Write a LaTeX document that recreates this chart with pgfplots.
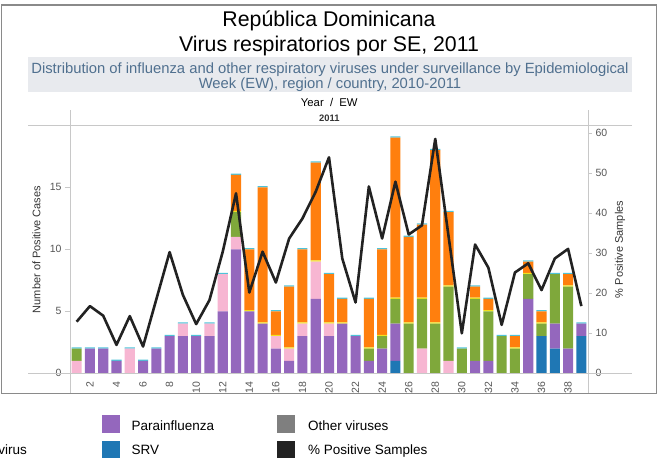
\documentclass[border=0pt]{standalone}
\usepackage{pgfplots}
\usepackage{pgfplotstable}
\pgfplotsset{compat=1.18}
\usepackage{fontspec}
\setmainfont{Liberation Sans}

\definecolor{pur}{HTML}{9467BD}
\definecolor{blu}{HTML}{1F77B4}
\definecolor{pnk}{HTML}{F7B6D2}
\definecolor{grn}{HTML}{7FA83B}
\definecolor{orn}{HTML}{FF7F0E}
\definecolor{yel}{HTML}{F2E21E}
\definecolor{cap}{HTML}{4EC3D8}
\definecolor{linec}{HTML}{222222}
\definecolor{oth}{HTML}{7F7F7F}
\definecolor{rule}{HTML}{C8C8C8}
\definecolor{frame}{HTML}{8A8A8A}
\definecolor{band}{HTML}{E8EAEE}
\definecolor{subt}{HTML}{50708F}
\definecolor{tick}{HTML}{555555}
\definecolor{lab}{HTML}{333333}

\newcommand\fs[1]{\fontsize{#1bp}{#1bp}\selectfont}

% weekly counts by virus (stack order bottom to top) and % positive samples
\pgfplotstableread{
wk blue pur pink grn yel orn cap pct
1  0 0  1 1 0   0    0.1 12.9
2  0 2  0 0 0   0    0.1 16.8
3  0 2  0 0 0   0    0.1 14.4
4  0 1  0 0 0   0    0.1 7.1
5  0 0  2 0 0   0    0.1 14.3
6  0 1  0 0 0   0    0.1 6.7
7  0 2  0 0 0   0    0.1 18.5
8  0 3  0 0 0   0    0.1 30.3
9  0 3  1 0 0   0    0.1 19.6
10 0 3  0 0 0   0    0.1 12.3
11 0 3  1 0 0   0    0.1 18.3
12 0 5  3 0 0   0    0.1 30.4
13 0 10 1 2 0.1 2.9  0.1 45.0
14 0 5  0 0 0.1 4.9  0.1 20.2
15 0 4  0 0 0.1 10.9 0.1 30.4
16 0 2  1 0 0.1 1.9  0.1 22.7
17 0 1  1 0 0.1 4.9  0.1 33.7
18 0 3  1 0 0.1 5.9  0.1 38.7
19 0 6  3 0 0.1 7.9  0.1 45.4
20 0 3  1 0 0.1 3.9  0.1 54.0
21 0 4  0 0 0.1 1.9  0.1 28.7
22 0 3  0 0 0   0    0.1 17.7
23 0 1  0 1 0.1 3.9  0.1 46.7
24 0 2  0 1 0.1 6.9  0.1 33.7
25 1 3  0 2 0.1 12.9 0.1 47.9
26 0 0  0 4 0.1 6.9  0.1 34.7
27 0 0  2 4 0.1 5.9  0.1 37.0
28 0 0  0 4 0.1 13.9 0.1 58.6
29 0 0  1 6 0.1 5.9  0.1 34.3
30 0 0  0 2 0   0    0.1 10.0
31 0 1  0 5 0.1 0.9  0.1 32.2
32 0 1  0 4 0.1 0.9  0.1 26.4
33 0 0  0 3 0   0    0.1 12.1
34 0 0  0 2 0.1 0.9  0.1 25.2
35 0 6  0 2 0.1 0.9  0.1 27.5
36 3 0  0 1 0.1 0.9  0.1 20.8
37 2 2  0 4 0   0    0.1 28.7
38 0 2  0 5 0.1 0.9  0.1 31.1
39 3 1  0 0 0   0    0.1 16.8
}\data

\begin{document}
\begin{tikzpicture}
\useasboundingbox (0,0) rectangle (658bp,-464bp);

% title block (pixel coordinates, y down)
\begin{scope}[x=1bp,y=-1bp]
\fill[band] (28,56.7) rectangle (632,92.3);
\node[anchor=base, font=\fs{21.3}] at (329,26.7) {República Dominicana};
\node[anchor=base, font=\fs{21.3}] at (329,51.7) {Virus respiratorios por SE, 2011};
\node[anchor=base, font=\fs{14.8}, text=subt] at (330,73.3) {Distribution of influenza and other respiratory viruses under surveillance by Epidemiological};
\node[anchor=base, font=\fs{14.8}, text=subt] at (330,88.3) {Week (EW), region / country, 2010-2011};
\node[anchor=base, font=\fs{11.3}] at (329.3,106.7) {Year~~/~~EW};
\node[anchor=base, font=\fs{9.4}\bfseries, text=lab] at (329.3,121) {2011};
\end{scope}

\begin{axis}[
  at={(70bp,-373.3bp)}, anchor=south west,
  width=518bp, height=247.6bp, scale only axis,
  xmin=0.5, xmax=39.5, ymin=0, ymax=19.97,
  ybar stacked, bar width=0.76,
  axis x line*=bottom, axis y line*=left,
  axis line style={draw=none,-},
  xtick={2,4,...,38},
  x tick label style={rotate=90, anchor=east, font=\fs{10.5}, text=tick},
  major x tick style={draw=none},
  ytick={0,5,10,15},
  y tick label style={font=\fs{10.5}, text=tick},
  major y tick style={draw=rule},
  major tick length=5bp, tick align=outside,
  /pgf/number format/assume math mode=true,
  ylabel={Number of Positive Cases},
  every axis y label/.style={at={(axis description cs:-0.0647,0.5)}, anchor=center, rotate=90, font=\fs{11}, text=lab},
]
\addplot[draw=none, fill=blu] table[x=wk, y=blue] {\data};
\addplot[draw=none, fill=pur] table[x=wk, y=pur] {\data};
\addplot[draw=none, fill=pnk] table[x=wk, y=pink] {\data};
\addplot[draw=none, fill=grn] table[x=wk, y=grn] {\data};
\addplot[draw=none, fill=yel] table[x=wk, y=yel] {\data};
\addplot[draw=none, fill=orn] table[x=wk, y=orn] {\data};
\addplot[draw=none, fill=cap] table[x=wk, y=cap] {\data};
\end{axis}

\begin{axis}[
  at={(70bp,-373.3bp)}, anchor=south west,
  width=518bp, height=247.6bp, scale only axis,
  xmin=0.5, xmax=39.5, ymin=0, ymax=61.9,
  axis x line=none, axis y line*=right,
  axis line style={draw=none,-},
  ytick={0,10,...,60},
  y tick label style={font=\fs{10.5}, text=tick},
  major y tick style={draw=rule},
  major tick length=4bp, tick align=outside,
  /pgf/number format/assume math mode=true,
  ylabel={\% Positive Samples},
  every axis y label/.style={at={(axis description cs:1.0618,0.5)}, anchor=center, rotate=90, font=\fs{11}, text=lab},
]
\addplot[color=linec, line width=2.6bp, line join=round, mark=none] table[x=wk, y=pct] {\data};
\end{axis}

\begin{scope}[x=1bp,y=-1bp]
% frame and rules
\draw[rule, line width=1bp] (28,125.7) -- (632,125.7);
\draw[rule, line width=1bp] (28,373.3) -- (632,373.3);
\draw[rule, line width=1bp] (70,110) -- (70,393);
\draw[rule, line width=1bp] (588.3,110) -- (588.3,393);
\draw[frame, line width=1.4bp] (1.7,5) rectangle (656.7,393.3);

% legend
\node[anchor=base east, font=\fs{13.5}, inner sep=0pt] at (27,454.8) {Adenovirus};
\fill[pur] (102,415) rectangle (119.5,432.5);
\node[anchor=base west, font=\fs{13.5}] at (128,430.5) {Parainfluenza};
\fill[blu] (102,440.5) rectangle (119.5,458);
\node[anchor=base west, font=\fs{13.5}] at (128,454.8) {SRV};
\fill[oth] (277,415) rectangle (294.5,432.5);
\node[anchor=base west, font=\fs{13.5}] at (304.6,430.5) {Other viruses};
\fill[linec] (277,440.5) rectangle (294.5,458);
\node[anchor=base west, font=\fs{13.5}] at (304.6,454.8) {\% Positive Samples};
\end{scope}
\end{tikzpicture}
\end{document}
